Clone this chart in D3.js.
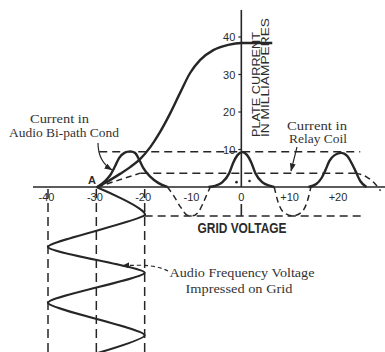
<!DOCTYPE html>
<html>
<head>
<meta charset="utf-8">
<script src="https://cdn.jsdelivr.net/npm/d3@7"></script>
<style>
  html, body { margin: 0; padding: 0; background: #fff; }
  svg { display: block; }
  .num { font-family: "Liberation Sans", Arial, sans-serif; font-size: 11px; fill: #2b2b2b; }
  .note { font-family: "Liberation Serif", "Times New Roman", serif; font-size: 11.5px; fill: #333; }
  .cap { font-family: "Liberation Sans", Arial, sans-serif; fill: #2b2b2b; }
</style>
</head>
<body>
<svg id="chart" width="385" height="352"></svg>
<script>
// Axis ticks
const voltTicks = [-40, -30, -20, -10, 0, 10, 20];
const voltTickLabels = ["-40", "-30", "-20", "-10", "0", "+10", "+20"];
const currentTicks = [10, 20, 30, 40];

// Tube characteristic: plate current (mA) against grid voltage (V)
const charVolts = [-29.8, -27.1, -25.1, -23.0, -20.9, -18.8, -16.8, -14.7, -12.6, -10.6, -8.5, -5.8, -2.7, 0, 6.4];
const charMa    = [0, 1.9, 3.5, 5.3, 7.5, 10.7, 14.7, 19.7, 25.3, 30.4, 33.9, 36.5, 37.9, 38.4, 38.4];

// Current pulse in the audio by-pass condenser
const bypassVolts = [-29.8, -28.2, -27.1, -26.1, -25.3, -24.2, -23.0, -22.0, -21.1, -20.3, -18.8, -17.2, -15.3];
const bypassMa    = [0, 1.6, 3.2, 5.6, 7.7, 9.1, 9.5, 9.1, 7.2, 5.1, 2.7, 1.1, 0];

// Current pulses in the relay coil
const relayVolts1 = [-6.8, -5.4, -3.9, -2.5, -1.7, -0.8, 0.2, 1.2, 2.1, 2.9, 4.3, 6.0, 6.8];
const relayMa1    = [0, 0.3, 1.3, 3.7, 6.4, 8.5, 9.3, 8.5, 6.4, 3.7, 1.3, 0.3, 0];
const relayVolts2 = [13.9, 15.5, 16.6, 17.4, 18.2, 19.3, 20.7, 21.9, 22.8, 23.6, 24.6, 25.9];
const relayMa2    = [0, 0.8, 2.4, 4.5, 6.9, 8.5, 9.1, 8.3, 6.4, 4.3, 1.6, 0];

// Cut-off half cycles (below the baseline)
const cutVolts1 = [-15.3, -14.1, -12.6, -11.2, -10.1, -8.9, -7.9, -7.0, -6.4];
const cutMa1    = [0, -2.1, -5.3, -7.5, -7.7, -6.7, -4.3, -1.6, 0];
const cutVolts2 = [6.8, 7.6, 8.7, 10.6, 12.5, 13.6, 14.4];
const cutMa2    = [0, -4.0, -6.7, -7.7, -6.7, -4.0, 0];
const tailVolts = [23.6, 25.9, 27.7, 28.8];
const tailMa    = [3.7, 2.7, 0.8, -1.0];

// Reference levels (mA)
const peakLevel = 9.4;
const meanLevel = 3.7;
const cutLevel = -7.7;

// Audio-frequency grid voltage, time running downward (cycles)
const gridVolts = [-30, -20, -40, -20, -40, -20, -40];
const gridTime  = [0, 0.47, 1.0, 1.43, 1.93, 2.47, 3.0];

const ink = "#262626";
const svg = d3.select("#chart");

const x = d3.scaleLinear().domain([-40, 20]).range([48, 338]);
const y = d3.scaleLinear().domain([0, 40]).range([187, 37]);
const t = d3.scaleLinear().domain([0, 3]).range([187, 367]);

const pts = (vs, ms) => vs.map((v, i) => [v, ms[i]]);
const curve = d3.line().x(d => x(d[0])).y(d => y(d[1])).curve(d3.curveMonotoneX);

// Arrowhead marker
const defs = svg.append("defs");
defs.append("marker")
  .attr("id", "head").attr("viewBox", "0 0 8 6")
  .attr("refX", 7.5).attr("refY", 3)
  .attr("markerWidth", 8).attr("markerHeight", 6)
  .attr("markerUnits", "userSpaceOnUse").attr("orient", "auto")
  .append("path").attr("d", "M0,0 L8,3 L0,6 Z").attr("fill", ink);

const dash = (sel) => sel.attr("stroke", ink).attr("stroke-width", 1.5)
  .attr("stroke-dasharray", "8,5").attr("fill", "none");

// Horizontal reference levels
svg.append("line").call(dash)
  .attr("x1", x(-29.4)).attr("x2", x(24.6)).attr("y1", y(peakLevel)).attr("y2", y(peakLevel));
svg.append("line").call(dash)
  .attr("x1", x(-20.9)).attr("x2", x(23.6)).attr("y1", y(meanLevel)).attr("y2", y(meanLevel));
svg.append("line").call(dash).attr("stroke-dasharray", "6,4")
  .attr("x1", x(-29.8)).attr("x2", x(-20.9)).attr("y1", y(0)).attr("y2", y(meanLevel));
svg.append("line").call(dash)
  .attr("x1", x(-20)).attr("x2", x(25.2)).attr("y1", y(cutLevel)).attr("y2", y(cutLevel));

// Vertical guides for the grid swing
[-40, -30, -20].forEach(v => {
  svg.append("line").call(dash).attr("stroke-dasharray", "9,5")
    .attr("x1", x(v)).attr("x2", x(v)).attr("y1", y(0) + 2).attr("y2", 352);
});

// Grid voltage axis
svg.append("line").attr("stroke", ink).attr("stroke-width", 1.6)
  .attr("x1", 33).attr("x2", 385).attr("y1", y(0)).attr("y2", y(0));
svg.selectAll(".vlab").data(voltTicks).enter().append("text")
  .attr("class", "num").attr("text-anchor", "middle")
  .attr("x", (d, i) => x(d) + (d < 0 ? -1.5 : 0)).attr("y", y(0) + 14)
  .text((d, i) => voltTickLabels[i]);

// Plate current axis
svg.append("line").attr("stroke", ink).attr("stroke-width", 1.6)
  .attr("x1", x(0)).attr("x2", x(0)).attr("y1", 10).attr("y2", y(0));
svg.append("line").attr("stroke", ink).attr("stroke-width", 1.6)
  .attr("x1", x(0)).attr("x2", x(0)).attr("y1", y(0) + 17).attr("y2", y(cutLevel));
svg.selectAll(".ctick").data(currentTicks).enter().append("line")
  .attr("stroke", ink).attr("stroke-width", 1.2)
  .attr("x1", x(0) - 3).attr("x2", x(0)).attr("y1", d => y(d)).attr("y2", d => y(d));
svg.selectAll(".clab").data(currentTicks).enter().append("text")
  .attr("class", "num").attr("font-size", "12px").attr("text-anchor", "end")
  .attr("x", x(0) - 6).attr("y", d => y(d) + 4).text(d => d);

// Small marks beside the origin
[[-1, 1.3], [1.7, 1.6]].forEach(p => {
  svg.append("circle").attr("cx", x(p[0])).attr("cy", y(p[1])).attr("r", 1.3).attr("fill", ink);
});

// Cut-off half cycles
[[cutVolts1, cutMa1], [cutVolts2, cutMa2], [tailVolts, tailMa]].forEach(s => {
  svg.append("path").attr("d", curve(pts(s[0], s[1])))
    .attr("fill", "none").attr("stroke", ink).attr("stroke-width", 1.5).attr("stroke-dasharray", "6,4");
});

// Characteristic curve
svg.append("path").attr("d", curve(pts(charVolts, charMa)))
  .attr("fill", "none").attr("stroke", ink).attr("stroke-width", 2.4);

// Current pulses
[[bypassVolts, bypassMa], [relayVolts1, relayMa1], [relayVolts2, relayMa2]].forEach(s => {
  svg.append("path").attr("d", curve(pts(s[0], s[1])))
    .attr("fill", "none").attr("stroke", ink).attr("stroke-width", 2.4);
});

// Grid voltage wave
const wave = d3.line().x(d => x(d[0])).y(d => t(d[1])).curve(d3.curveCardinal.tension(0.42));
svg.append("path").attr("d", wave(pts(gridVolts, gridTime)))
  .attr("fill", "none").attr("stroke", ink).attr("stroke-width", 2.1);

// Axis titles
svg.append("text").attr("class", "cap").attr("font-size", "11.5px")
  .attr("transform", "translate(260,137) rotate(-90)")
  .attr("textLength", 105).attr("lengthAdjust", "spacingAndGlyphs")
  .text("PLATE CURRENT");
svg.append("text").attr("class", "cap").attr("font-size", "11.5px")
  .attr("transform", "translate(269,137) rotate(-90)")
  .attr("textLength", 119).attr("lengthAdjust", "spacingAndGlyphs")
  .text("IN MILLIAMPERES");
svg.append("text").attr("class", "cap").attr("font-size", "14px").attr("font-weight", "bold")
  .attr("text-anchor", "middle").attr("x", 242).attr("y", 233)
  .attr("textLength", 89).attr("lengthAdjust", "spacingAndGlyphs")
  .text("GRID VOLTAGE");

// Point A
svg.append("text").attr("class", "cap").attr("font-size", "11px").attr("font-weight", "bold")
  .attr("text-anchor", "middle").attr("x", 92).attr("y", 184).text("A");

// Annotations
const note = (txt, cx, by, len) => svg.append("text").attr("class", "note")
  .attr("text-anchor", "middle").attr("x", cx).attr("y", by)
  .attr("textLength", len).attr("lengthAdjust", "spacingAndGlyphs").text(txt);

note("Current in", 317, 130, 60);
note("Relay Coil", 318, 143, 58);
note("Current in", 59.5, 123, 59);
note("Audio Bi-path Cond", 64, 137, 110);
note("Audio Frequency Voltage", 242, 277, 145);
note("Impressed on Grid", 239, 293, 107);

// Leader arrows
svg.append("path").attr("d", "M297,147 L291,171")
  .attr("fill", "none").attr("stroke", ink).attr("stroke-width", 1.2).attr("marker-end", "url(#head)");
svg.append("path").attr("d", "M98,143 C98,156 104,165 112,170")
  .attr("fill", "none").attr("stroke", ink).attr("stroke-width", 1.2).attr("marker-end", "url(#head)");
svg.append("path").attr("d", "M168,271 C158,266 145,264 122,266")
  .attr("fill", "none").attr("stroke", ink).attr("stroke-width", 1.2)
  .attr("stroke-dasharray", "4,3").attr("marker-end", "url(#head)");
</script>
</body>
</html>
